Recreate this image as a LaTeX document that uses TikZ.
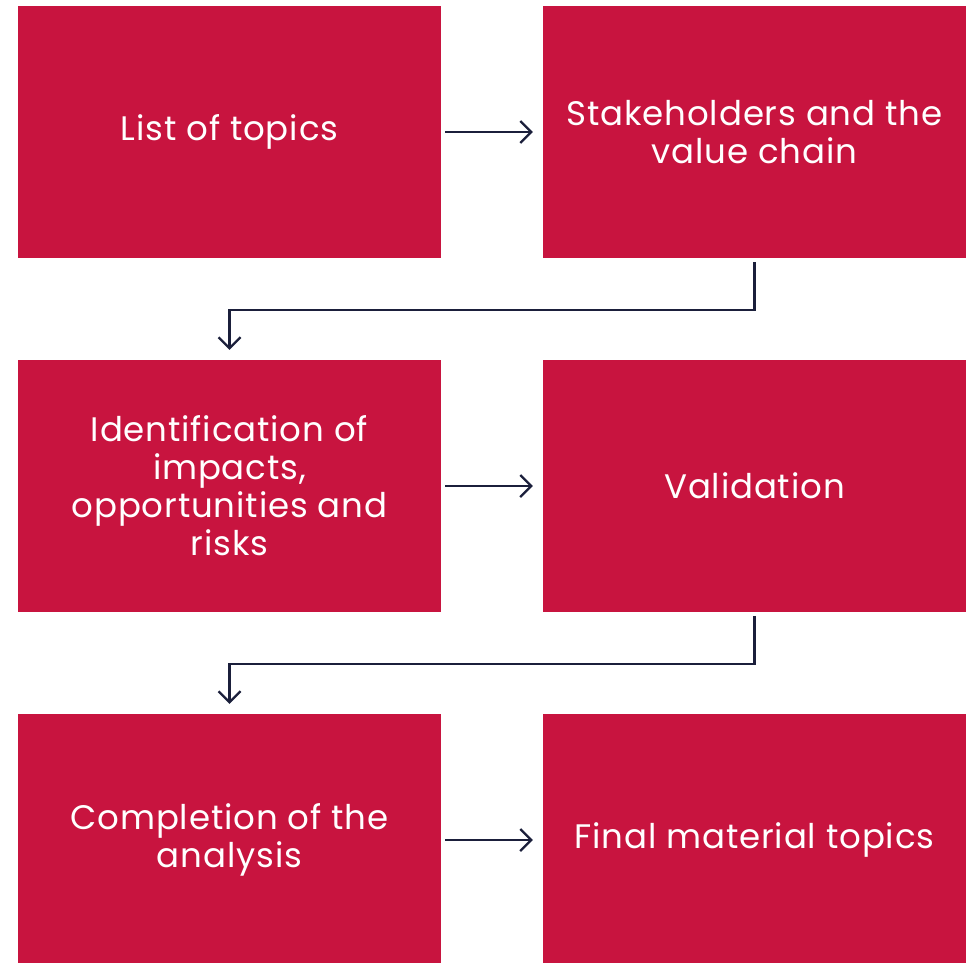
\documentclass[tikz,border=0pt]{standalone}
\usepackage{fontspec}
\setmainfont[LetterSpace=2.5]{Poppins}
\usepackage{tikz}
\usetikzlibrary{arrows.meta, positioning, calc}

\definecolor{boxred}{RGB}{200,20,63}
\definecolor{arrownavy}{RGB}{27,31,59}

\begin{document}
\begin{tikzpicture}[x=1pt, y=-1pt,
  stepbox/.style={fill=boxred, text=white, minimum width=423pt, minimum height=252pt,
    inner sep=0pt, align=center, font=\fontsize{34}{38}\selectfont},
  flow/.style={draw=arrownavy, line width=2.2pt, shorten <=4pt, shorten >=10pt,
    -{Straight Barb[length=11pt, width=22pt, line width=2.2pt]}}]
\useasboundingbox (0,0) rectangle (974,963);

% Row 1
\node[stepbox] (topics) at (229.5,132) {List of topics};
\node[stepbox] (stake) at (754.5,132) {Stakeholders and the\\value chain};

% Row 2
\node[stepbox] (ident) at (229.5,486) {Identification of\\impacts,\\opportunities and\\risks};
\node[stepbox] (valid) at (754.5,486) {Validation};

% Row 3
\node[stepbox] (complete) at (229.5,840) {Completion of the\\analysis};
\node[stepbox] (final) at (754.5,840) {Final material topics};

% Connectors
\draw[flow] (topics) -- (stake);
\draw[flow] (ident) -- (valid);
\draw[flow] (complete) -- (final);
\draw[flow] (stake.south) -- ++(0,52) -| (ident.north);
\draw[flow] (valid.south) -- ++(0,52) -| (complete.north);
\end{tikzpicture}
\end{document}
